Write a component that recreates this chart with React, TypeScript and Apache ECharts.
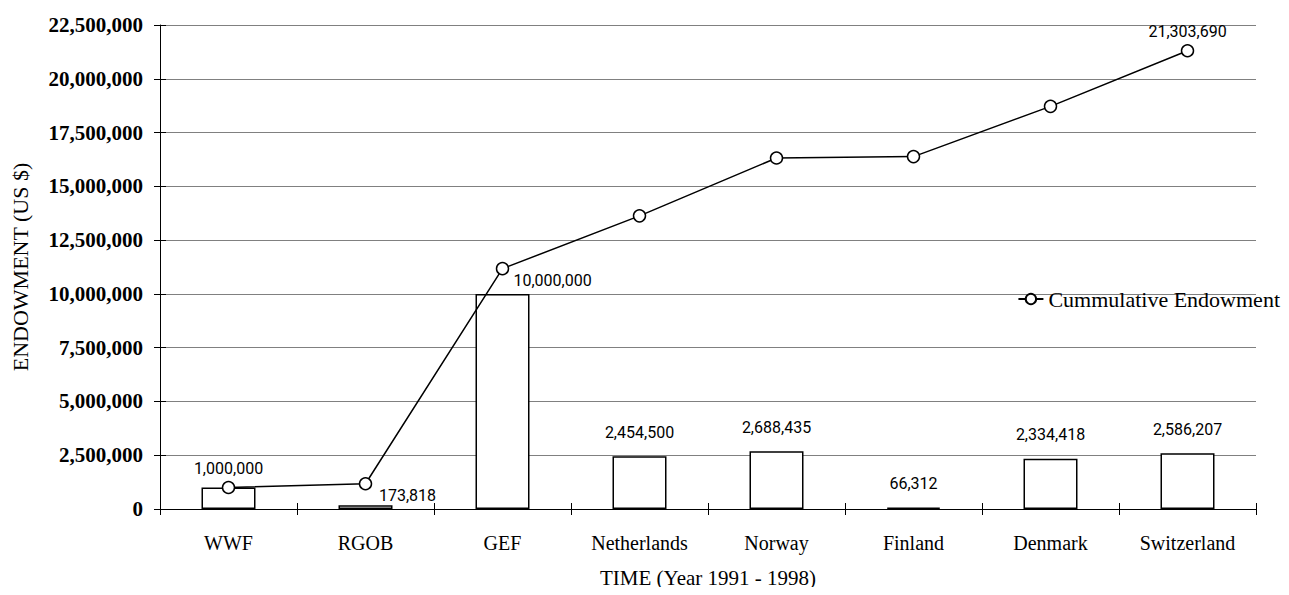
import React, { useEffect, useRef } from "react";
import * as echarts from "echarts";

const categories = ["WWF", "RGOB", "GEF", "Netherlands", "Norway", "Finland", "Denmark", "Switzerland"];
const contributions = [1000000, 173818, 10000000, 2454500, 2688435, 66312, 2334418, 2586207];
const cumulative = [1000000, 1173818, 11173818, 13628318, 16316753, 16383065, 18717483, 21303690];
const yTicks = { min: 0, max: 22500000, interval: 2500000 };

const seriesName = "Cummulative Endowment";
const xTitle = "TIME (Year 1991 - 1998)";
const yTitle = "ENDOWMENT (US $)";

// label placement tweaks (style, not data)
const barLabelOffsets: Record<string, [number, number]> = {
  WWF: [0, 5],
  RGOB: [42, 14],
  GEF: [50, 11],
};

const fmt = (v: number) => v.toLocaleString("en-US");
const SERIF = "'Liberation Serif', 'Times New Roman', serif";
const NARROW = "'Liberation Sans Narrow', Roboto, sans-serif";

export default function App() {
  const ref = useRef<HTMLDivElement>(null);
  useEffect(() => {
    if (!ref.current) return;
    const chart = echarts.init(ref.current, null, { renderer: "svg" });
    const barData = contributions.map((v, i) => {
      const off = barLabelOffsets[categories[i]];
      return off ? { value: v, label: { offset: off } } : { value: v };
    });
    const lineData = cumulative.map((v, i) =>
      i === cumulative.length - 1
        ? { value: v, label: { show: true } }
        : { value: v }
    );
    chart.setOption({
      animation: false,
      backgroundColor: "#fff",
      grid: { left: 160, right: 33, top: 25, bottom: 86, containLabel: false },
      legend: {
        data: [seriesName],
        right: 4,
        top: 283,
        itemWidth: 25,
        itemHeight: 13,
        itemGap: 5,
        textStyle: { fontFamily: SERIF, fontSize: 22, color: "#000" },
      },
      xAxis: [
        {
          type: "category",
          data: categories,
          boundaryGap: true,
          name: xTitle,
          nameLocation: "middle",
          nameGap: 58,
          nameTextStyle: { fontFamily: SERIF, fontSize: 21, color: "#000" },
          axisLine: { lineStyle: { color: "#000", width: 1 } },
          axisTick: { show: true, length: 6, lineStyle: { color: "#000" } },
          axisLabel: { fontFamily: SERIF, fontSize: 20, color: "#000", margin: 24, interval: 0 },
        },
        {
          type: "category",
          data: categories,
          boundaryGap: true,
          position: "bottom",
          axisLine: { show: false },
          axisTick: { show: true, inside: true, length: 6, lineStyle: { color: "#000" } },
          axisLabel: { show: false },
          splitLine: { show: false },
        },
      ],
      yAxis: [
        {
          type: "value",
          min: yTicks.min,
          max: yTicks.max,
          interval: yTicks.interval,
          name: yTitle,
          nameLocation: "middle",
          nameGap: 129,
          nameTextStyle: { fontFamily: SERIF, fontSize: 22, color: "#000" },
          axisLine: { show: true, lineStyle: { color: "#000", width: 1 } },
          axisTick: { show: true, length: 6, lineStyle: { color: "#000" } },
          axisLabel: {
            fontFamily: SERIF,
            fontSize: 21,
            fontWeight: "bold",
            color: "#000",
            margin: 17,
            formatter: (v: number) => fmt(v),
          },
          splitLine: { show: true, lineStyle: { color: "#808080", width: 1 } },
        },
        {
          type: "value",
          min: yTicks.min,
          max: yTicks.max,
          interval: yTicks.interval,
          position: "left",
          axisLine: { show: false },
          axisTick: { show: true, inside: true, length: 6, lineStyle: { color: "#000" } },
          axisLabel: { show: false },
          splitLine: { show: false },
        },
      ],
      series: [
        {
          type: "bar",
          name: "Contribution",
          data: barData,
          barWidth: 54,
          z: 1,
          itemStyle: { color: "#fff", borderColor: "#000", borderWidth: 1.5 },
          label: {
            show: true,
            position: "top",
            distance: 16,
            fontFamily: NARROW,
            fontSize: 16,
            color: "#000",
            formatter: (p: any) => fmt(p.value),
          },
        },
        {
          type: "line",
          name: seriesName,
          data: lineData,
          z: 3,
          symbol: "circle",
          symbolSize: 12,
          lineStyle: { color: "#000", width: 1.5 },
          itemStyle: { color: "#fff", borderColor: "#000", borderWidth: 1.5 },
          label: {
            show: false,
            position: "top",
            distance: 4,
            fontFamily: NARROW,
            fontSize: 16,
            color: "#000",
            formatter: (p: any) => fmt(p.value),
          },
        },
      ],
    });
    return () => chart.dispose();
  }, []);
  return <div ref={ref} style={{ width: 1289, height: 595, margin: -8 }} />;
}
